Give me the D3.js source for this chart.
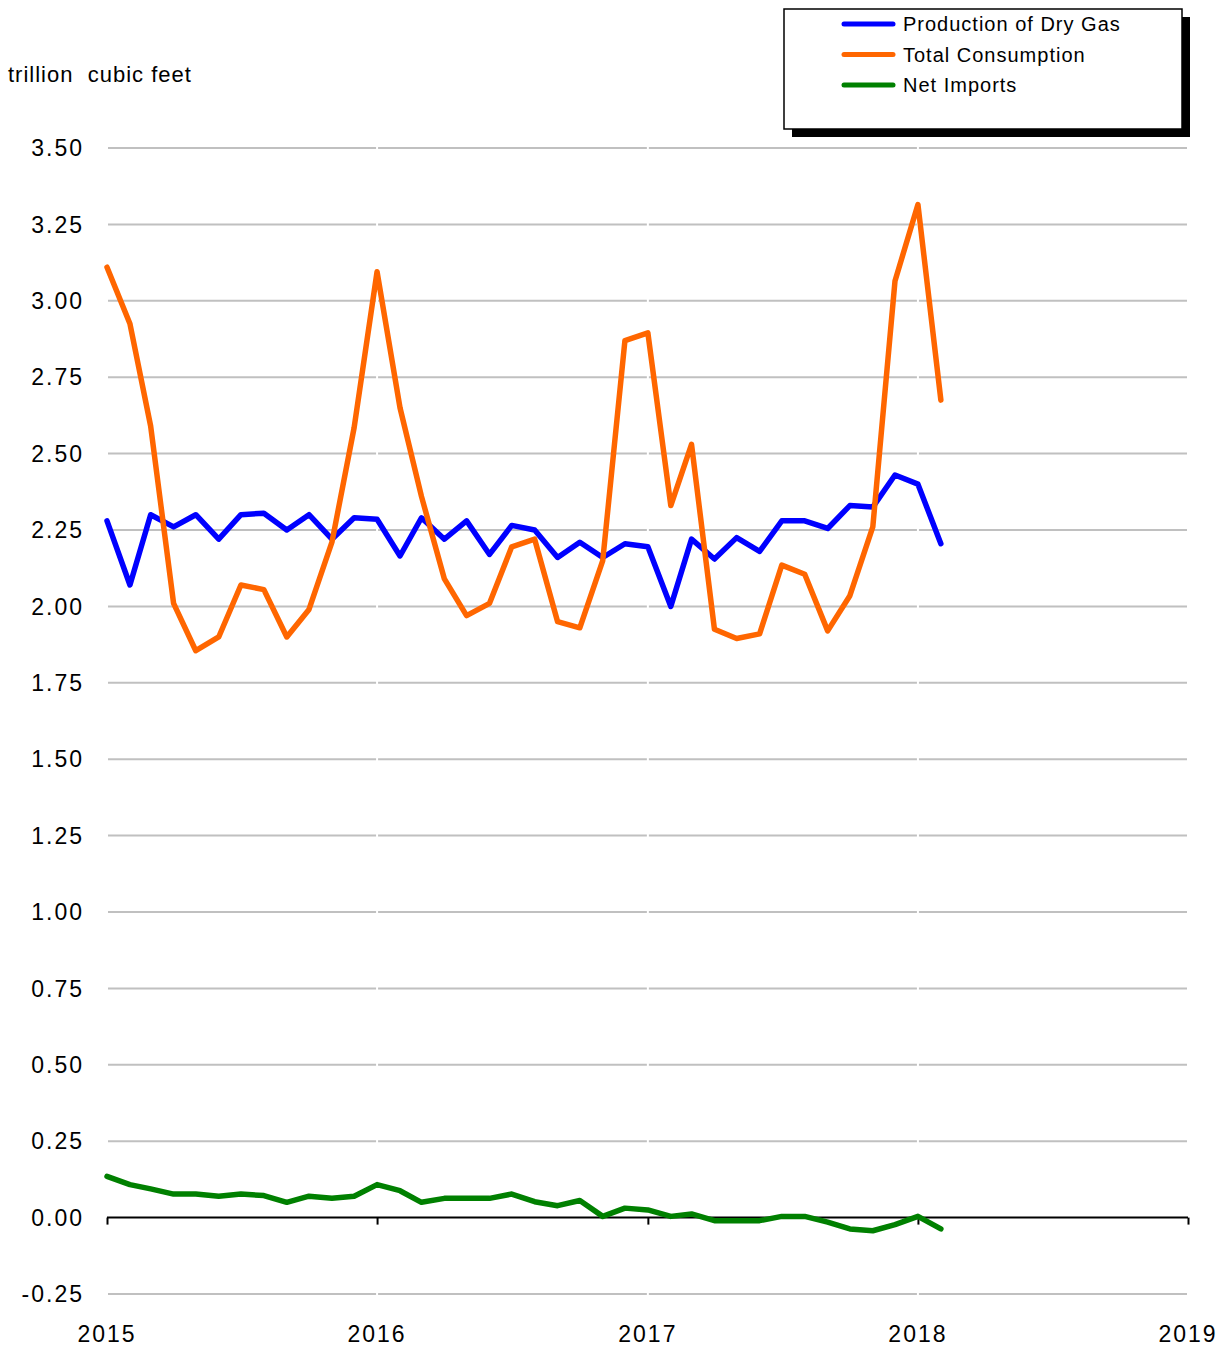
<!DOCTYPE html>
<html>
<head>
<meta charset="utf-8">
<script src="https://cdn.jsdelivr.net/npm/d3@7"></script>
<style>
  body { margin: 0; background: #fff; }
  text { font-family: "Liberation Sans", Arial, sans-serif; fill: #000; }
  .grid line { stroke: #c0c0c0; stroke-width: 2; }
  .series { fill: none; stroke-width: 5.5; stroke-linejoin: round; stroke-linecap: round; }
</style>
</head>
<body>
<script>
(function() {
  var width = 1225;
  var height = 1349;

  var months = [
    '2015-01', '2015-02', '2015-03', '2015-04', '2015-05', '2015-06',
    '2015-07', '2015-08', '2015-09', '2015-10', '2015-11', '2015-12',
    '2016-01', '2016-02', '2016-03', '2016-04', '2016-05', '2016-06',
    '2016-07', '2016-08', '2016-09', '2016-10', '2016-11', '2016-12',
    '2017-01', '2017-02', '2017-03', '2017-04', '2017-05', '2017-06',
    '2017-07', '2017-08', '2017-09', '2017-10', '2017-11', '2017-12',
    '2018-01', '2018-02'
  ];

  var production = [
    2.28, 2.07, 2.30, 2.26, 2.30, 2.22, 2.30, 2.305, 2.25, 2.30, 2.22, 2.29,
    2.285, 2.165, 2.29, 2.22, 2.28, 2.17, 2.265, 2.25, 2.16, 2.21, 2.16, 2.205,
    2.195, 2.00, 2.22, 2.155, 2.225, 2.18, 2.28, 2.28, 2.255, 2.33, 2.325, 2.43,
    2.40, 2.205
  ];

  var consumption = [
    3.11, 2.925, 2.59, 2.01, 1.855, 1.90, 2.07, 2.055, 1.90, 1.99, 2.21, 2.585,
    3.095, 2.65, 2.36, 2.09, 1.97, 2.01, 2.195, 2.22, 1.95, 1.93, 2.15, 2.87,
    2.895, 2.33, 2.53, 1.925, 1.895, 1.91, 2.135, 2.105, 1.92, 2.035, 2.26, 3.065,
    3.315, 2.675
  ];

  var netImports = [
    0.135, 0.108, 0.094, 0.077, 0.077, 0.070, 0.077, 0.072, 0.050, 0.070, 0.063, 0.070,
    0.108, 0.088, 0.050, 0.063, 0.063, 0.063, 0.077, 0.052, 0.039, 0.056, 0.004, 0.031,
    0.025, 0.004, 0.012, -0.010, -0.010, -0.010, 0.004, 0.004, -0.015, -0.037, -0.043, -0.023,
    0.004, -0.037
  ];

  var seriesNames = ['Production of Dry Gas', 'Total Consumption', 'Net Imports'];
  var seriesColors = ['#0000ff', '#ff6600', '#008000'];
  var yTicks = [-0.25, 0, 0.25, 0.5, 0.75, 1, 1.25, 1.5, 1.75, 2, 2.25, 2.5, 2.75, 3, 3.25, 3.5];
  var yearTicks = ['2015', '2016', '2017', '2018', '2019'];
  var unitLabel = 'trillion  cubic feet';

  var parseMonth = d3.timeParse('%Y-%m');
  var parseYear = d3.timeParse('%Y');
  var dates = months.map(parseMonth);
  var years = yearTicks.map(parseYear);
  var fmt = d3.formatLocale({ decimal: '.', thousands: ',', grouping: [3], currency: ['$', ''], minus: '-' }).format('.2f');

  var xScale = d3.scaleTime()
    .domain([years[0], years[years.length - 1]])
    .range([107, 1188]);

  var yScale = d3.scaleLinear()
    .domain([-0.25, 3.5])
    .range([1294, 148]);

  var svg = d3.select('body')
    .append('svg')
    .attr('width', width)
    .attr('height', height);

  // gridlines, broken into one segment per year like the original
  var grid = svg.append('g').attr('class', 'grid');
  yTicks.filter(v => v !== 0).forEach(function(v) {
    d3.pairs(years).forEach(function(p) {
      grid.append('line')
        .attr('x1', xScale(p[0]) + 1)
        .attr('x2', xScale(p[1]) - 1)
        .attr('y1', yScale(v))
        .attr('y2', yScale(v));
    });
  });

  // y labels
  svg.append('g')
    .selectAll('text')
    .data(yTicks)
    .join('text')
    .attr('x', 84)
    .attr('y', d => yScale(d))
    .attr('dy', '0.36em')
    .attr('text-anchor', 'end')
    .attr('font-size', 23)
    .attr('letter-spacing', '2px')
    .text(d => fmt(d));

  svg.append('text')
    .attr('x', 8)
    .attr('y', 82)
    .attr('font-size', 22)
    .attr('letter-spacing', '1px')
    .style('white-space', 'pre')
    .text(unitLabel);

  // zero axis with year ticks
  var xAxis = d3.axisBottom(xScale)
    .tickValues(years)
    .tickSize(7)
    .tickFormat('');
  var axisG = svg.append('g')
    .attr('transform', `translate(0, ${yScale(0)})`)
    .call(xAxis);
  axisG.select('.domain').attr('stroke', '#000').attr('stroke-width', 2)
    .attr('d', `M${xScale.range()[0]},0H${xScale.range()[1]}`);
  axisG.selectAll('.tick line').attr('stroke', '#000').attr('stroke-width', 2);

  // year labels at the bottom
  svg.append('g')
    .selectAll('text')
    .data(years)
    .join('text')
    .attr('x', d => xScale(d))
    .attr('y', 1342)
    .attr('text-anchor', 'middle')
    .attr('font-size', 23)
    .attr('letter-spacing', '2px')
    .text(d => d3.timeFormat('%Y')(d));

  // series
  var line = d3.line()
    .x(d => xScale(d.date))
    .y(d => yScale(d.value));

  [production, consumption, netImports].forEach(function(values, i) {
    svg.append('path')
      .datum(values.map((v, j) => ({ date: dates[j], value: v })))
      .attr('class', 'series')
      .attr('stroke', seriesColors[i])
      .attr('d', line);
  });

  // legend
  var legend = svg.append('g');
  legend.append('rect')
    .attr('x', 792).attr('y', 17)
    .attr('width', 398).attr('height', 120)
    .attr('fill', '#000');
  legend.append('rect')
    .attr('x', 784).attr('y', 9)
    .attr('width', 398).attr('height', 120)
    .attr('fill', '#fff')
    .attr('stroke', '#000')
    .attr('stroke-width', 1.5);

  seriesNames.forEach(function(name, i) {
    var y = 24 + i * 30.5;
    legend.append('line')
      .attr('x1', 844).attr('x2', 893)
      .attr('y1', y).attr('y2', y)
      .attr('stroke', seriesColors[i])
      .attr('stroke-width', 5)
      .attr('stroke-linecap', 'round');
    legend.append('text')
      .attr('x', 903)
      .attr('y', y)
      .attr('dy', '0.36em')
      .attr('font-size', 20)
      .attr('letter-spacing', '1px')
      .text(name);
  });
})();
</script>
</body>
</html>
